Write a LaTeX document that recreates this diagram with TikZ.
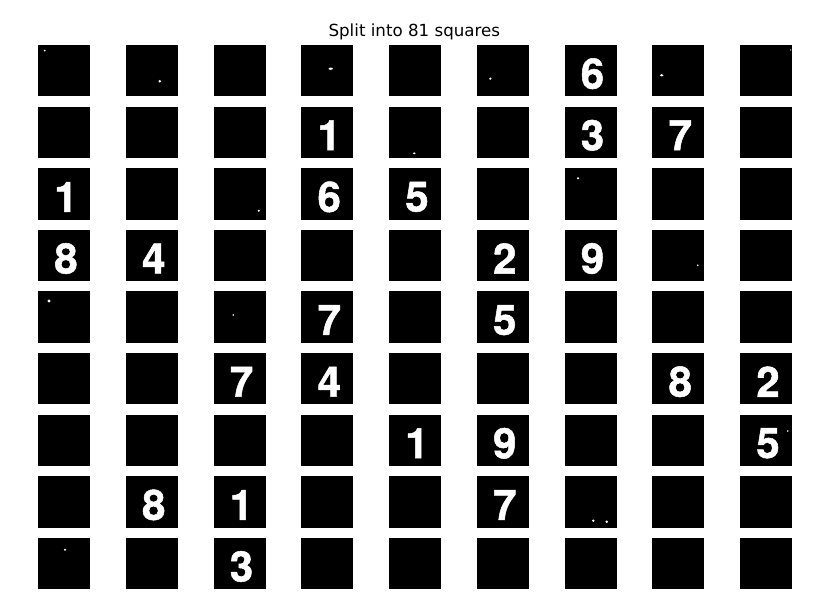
\documentclass[tikz,border=0pt]{standalone}
\usepackage{fontspec}
\setmainfont{TeX Gyre Heros}[BoldFeatures={FakeBold=1.2}]
\newfontfamily\titlefont{DejaVu Sans}
\begin{document}
\begin{tikzpicture}[x=1pt,y=-1pt,
  cell/.style={fill=black,draw=none,minimum width=52pt,minimum height=51.4pt,inner sep=0pt,outer sep=0pt},
  digit/.style={text=white,inner sep=0pt,font=\bfseries\fontsize{42}{42}\selectfont},
  speck/.style={fill=white,draw=none},
  titletext/.style={inner sep=0pt,font=\titlefont\fontsize{16.67}{20}\selectfont}]
\useasboundingbox (0,0) rectangle (813,601);
\fill[white] (0,0) rectangle (813,601);
% title
\node[titletext,anchor=base] (title) at (414.3,36.7) {Split into 81 squares};
% cells
\foreach \r in {0,...,8}{
  \foreach \c in {0,...,8}{
    \node[cell] (c-\r-\c) at ({64+87.75*\c},{70.7+61.6*\r}) {};
  }
}
% digits
\foreach \r/\c/\d in {0/6/6, 1/3/1, 1/6/3, 1/7/7, 2/0/1, 2/3/6, 2/4/5,
  3/0/8, 3/1/4, 3/5/2, 3/6/9, 4/3/7, 4/5/5, 5/2/7, 5/3/4, 5/7/8, 5/8/2,
  6/4/1, 6/5/9, 6/8/5, 7/1/8, 7/2/1, 7/5/7, 8/2/3}{
  \node[digit] (d-\r-\c) at ([shift={(2,3)}]c-\r-\c.center) {\d};
}
% specks
\fill[speck] (44.7,50.7) circle (1);
\fill[speck] (159.7,81.3) circle (1.4);
\fill[speck] (330.7,68.7) ellipse (2.2 and 1.1);
\fill[speck] (490.3,78.7) circle (1.2);
\fill[speck] (661.7,75.3) ellipse (1.8 and 1.2);
\fill[speck] (790.7,50) circle (0.7);
\fill[speck] (414.3,153.3) ellipse (1.4 and 1);
\fill[speck] (258.7,210.7) circle (1.1);
\fill[speck] (578,178.3) circle (1.2);
\fill[speck] (697.7,265.3) circle (0.9);
\fill[speck] (49,301) circle (1.7);
\fill[speck] (233.3,315) circle (0.9);
\fill[speck] (787.7,431) circle (0.8);
\fill[speck] (593.3,520.7) circle (1.3);
\fill[speck] (606.7,521.7) circle (1.4);
\fill[speck] (65,549.7) circle (1.2);
\end{tikzpicture}
\end{document}
